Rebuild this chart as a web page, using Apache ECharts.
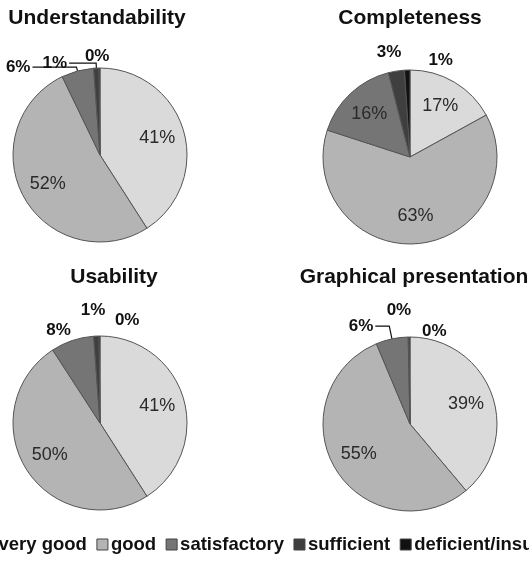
<!DOCTYPE html>
<html>
<head>
<meta charset="utf-8">
<script src="https://cdn.jsdelivr.net/npm/echarts@6/dist/echarts.min.js"></script>
<style>
  html, body { margin: 0; padding: 0; background: #fff; }
  #main { width: 529px; height: 565px; }
</style>
</head>
<body>
<div id="main"></div>
<script>
// ratings, clockwise from 12 o'clock
var categories = ['very good', 'good', 'satisfactory', 'sufficient', 'deficient/insufficient'];
var panelTitles = ['Understandability', 'Completeness', 'Usability', 'Graphical presentation'];
var understandability = [41, 52, 6, 1, 0];
var completeness = [17, 63, 16, 3, 1];
var usability = [41, 50, 8, 1, 0];
var graphical = [39, 55, 6, 0, 0];

var colors = ['#dadada', '#b4b4b4', '#757575', '#3f3f3f', '#111111'];
var font = "'Liberation Sans', Arial, sans-serif";
var R = 87;

// leader lines of the thin slices: [length, length2, line visible], by slice index
var leaders = [
  { 2: [4, 44, true], 3: [5, 27, true], 4: [12, -12, false] },
  { 3: [19, -10, false], 4: [10, -48, false] },
  { 2: [11, -4, false], 3: [26, -12, false], 4: [16, -42, false] },
  { 2: [13, 14, true], 3: [27, -5, false], 4: [6, -39, false] }
];

var panels = [
  { values: understandability, center: [100, 155], titleAt: [97, 8] },
  { values: completeness, center: [410, 157], titleAt: [410, 8] },
  { values: usability, center: [100, 423], titleAt: [114, 267] },
  { values: graphical, center: [410, 424], titleAt: [414, 267] }
];

var titles = [];
var series = [];

panels.forEach(function (p, i) {
  titles.push({
    text: panelTitles[i],
    left: p.titleAt[0],
    top: p.titleAt[1],
    textAlign: 'center',
    padding: 0,
    textStyle: { fontFamily: font, fontSize: 21, fontWeight: 'bold', color: '#111' }
  });

  // slices + outside labels for the thin ones
  series.push({
    type: 'pie',
    center: p.center,
    radius: R,
    startAngle: 90,
    clockwise: true,
    animation: false,
    avoidLabelOverlap: false,
    minAngle: 0.6,
    labelLayout: { hideOverlap: false },
    itemStyle: { borderColor: '#555', borderWidth: 1 },
    data: p.values.map(function (v, k) {
      var ld = leaders[i][k];
      return {
        name: categories[k],
        value: v,
        itemStyle: { color: colors[k] },
        label: {
          show: !!ld,
          position: 'outside',
          formatter: '{c}%',
          fontFamily: font,
          fontSize: 17,
          fontWeight: 'bold',
          color: '#111',
          distanceToLabelLine: 2
        },
        labelLine: {
          show: !!(ld && ld[2]),
          length: ld ? ld[0] : 6,
          length2: ld ? ld[1] : 10,
          lineStyle: { color: '#111', width: 1.2, opacity: ld && ld[2] ? 1 : 0 }
        }
      };
    })
  });

  // transparent overlay, only carries the in-slice labels a bit further out
  series.push({
    type: 'pie',
    center: p.center,
    radius: [0, R * 1.3],
    startAngle: 90,
    clockwise: true,
    silent: true,
    animation: false,
    itemStyle: { color: 'transparent', borderWidth: 0 },
    label: {
      position: 'inside',
      formatter: '{c}%',
      fontFamily: font,
      fontSize: 18,
      color: '#2a2a2a'
    },
    labelLine: { show: false },
    data: p.values.map(function (v, k) {
      return { name: categories[k], value: v, label: { show: v >= 10 } };
    })
  });
});

var chart = echarts.init(document.getElementById('main'));
chart.setOption({
  backgroundColor: '#fff',
  title: titles,
  color: colors,
  legend: {
    data: categories,
    left: -16,
    top: 535,
    width: 900,
    padding: 0,
    itemGap: 9.5,
    itemWidth: 11,
    itemHeight: 11,
    icon: 'rect',
    itemStyle: { borderColor: '#444', borderWidth: 1 },
    textStyle: { fontFamily: font, fontSize: 18.5, fontWeight: 'bold', color: '#111', padding: [0, 0, 0, -2] }
  },
  series: series
});
</script>
</body>
</html>
